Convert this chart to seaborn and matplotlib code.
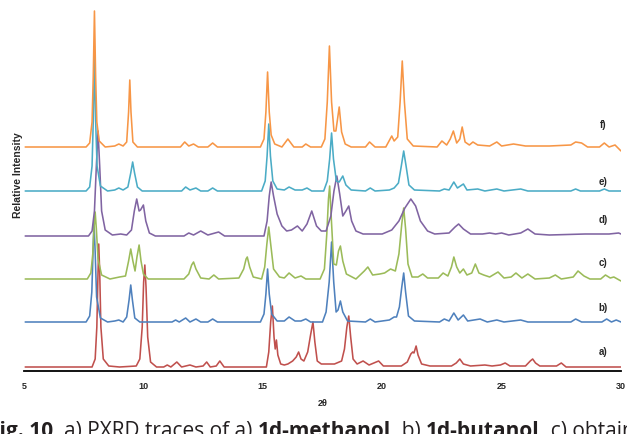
import pandas as pd
import matplotlib
matplotlib.use("Agg")
import matplotlib.pyplot as plt
import matplotlib.transforms as mtransforms
import seaborn as sns

# PXRD traces as (2theta, intensity) points, a) at the bottom
a_pts = [(5.05, 0), (7.85, 0), (7.98, 8), (8.05, 40), (8.1, 95), (8.13, 123), (8.17, 95), (8.22, 40),
         (8.32, 8), (8.55, 1), (9.0, 0), (9.7, 1), (9.85, 8), (9.95, 40), (10.01, 85), (10.06, 102),
         (10.11, 80), (10.18, 30), (10.3, 5), (10.55, 0), (10.85, 0), (11.0, 2), (11.15, 0), (11.4, 5),
         (11.6, 0), (11.95, 2), (12.2, 0), (12.5, 1), (12.65, 5), (12.8, 0), (13.05, 1), (13.2, 6),
         (13.38, 0), (15.15, 0), (15.25, 15), (15.33, 45), (15.4, 61), (15.47, 30), (15.52, 18),
         (15.57, 27), (15.63, 12), (15.75, 3), (15.9, 2), (16.05, 3), (16.25, 6), (16.4, 10), (16.5, 15),
         (16.6, 8), (16.72, 6), (16.88, 15), (17.0, 32), (17.1, 45), (17.18, 25), (17.28, 6), (17.45, 3),
         (17.6, 3), (18.0, 3), (18.3, 6), (18.42, 18), (18.52, 40), (18.6, 51), (18.68, 30), (18.78, 8),
         (18.95, 3), (19.2, 6), (19.45, 2), (19.85, 6), (20.05, 1), (20.8, 1), (21.05, 5), (21.2, 13),
         (21.28, 15), (21.33, 14), (21.42, 21), (21.5, 12), (21.65, 3), (22.0, 1), (22.9, 1), (23.1, 4),
         (23.25, 8), (23.4, 3), (23.7, 1), (24.3, 2), (24.6, 1), (24.95, 2), (25.15, 4), (25.35, 1),
         (26.0, 1), (26.2, 6), (26.3, 8), (26.42, 4), (26.6, 1), (27.3, 1), (27.5, 4), (27.7, 0),
         (29.0, 0), (30.0, 0)]

b_pts = [(5.05, 0), (7.6, 0), (7.75, 6), (7.84, 30), (7.89, 70), (7.93, 100), (7.98, 70), (8.04, 25),
         (8.2, 4), (8.5, 0), (8.8, 1), (8.97, 2), (9.15, 0), (9.3, 5), (9.4, 22), (9.47, 37), (9.54, 22),
         (9.64, 4), (9.85, 0), (11.2, 0), (11.35, 2), (11.5, 0), (11.77, 4), (11.95, 0), (12.2, 3),
         (12.4, 0), (12.7, 0), (12.9, 3), (13.1, 0), (14.9, 0), (15.05, 8), (15.13, 28), (15.2, 53),
         (15.27, 28), (15.37, 8), (15.6, 1), (15.9, 1), (16.1, 5), (16.35, 1), (16.6, 1), (16.8, 3),
         (17.0, 0), (17.5, 0), (17.65, 10), (17.78, 40), (17.88, 80), (17.97, 40), (18.07, 10),
         (18.15, 12), (18.25, 21), (18.35, 10), (18.55, 1), (19.3, 0), (19.5, 3), (19.7, 0), (20.3, 2),
         (20.5, 5), (20.6, 5), (20.72, 15), (20.82, 35), (20.9, 49), (20.98, 30), (21.1, 6), (21.35, 1),
         (22.4, 0), (22.6, 3), (22.8, 1), (23.0, 9), (23.18, 2), (23.4, 7), (23.58, 1), (24.1, 3),
         (24.4, 0), (24.8, 2), (25.1, 0), (25.8, 2), (26.1, 0), (27.9, 0), (28.1, 3), (28.35, 0),
         (29.2, 0), (29.4, 3), (29.6, 0), (29.8, 2), (30.0, 0)]

c_pts = [(5.05, 0), (7.65, 0), (7.8, 6), (7.88, 25), (7.93, 50), (7.98, 67), (8.03, 50), (8.1, 20),
         (8.25, 4), (8.6, 0), (9.0, 2), (9.25, 3), (9.38, 18), (9.47, 30), (9.56, 18), (9.65, 8),
         (9.73, 22), (9.82, 34), (9.9, 18), (10.0, 5), (10.2, 0), (11.7, 0), (11.9, 5), (12.02, 14),
         (12.1, 17), (12.2, 10), (12.4, 1), (12.75, 0), (12.95, 4), (13.15, 0), (14.0, 1), (14.2, 10),
         (14.3, 20), (14.35, 22), (14.45, 12), (14.6, 2), (14.95, 0), (15.08, 12), (15.17, 35),
         (15.25, 52), (15.33, 35), (15.45, 10), (15.7, 2), (15.9, 1), (16.1, 6), (16.35, 1), (16.6, 3),
         (16.8, 0), (17.4, 0), (17.58, 10), (17.68, 45), (17.75, 80), (17.8, 93), (17.87, 60),
         (17.97, 15), (18.08, 14), (18.17, 28), (18.25, 33), (18.35, 18), (18.5, 5), (18.9, 0),
         (19.25, 8), (19.4, 12), (19.6, 4), (19.9, 5), (20.1, 6), (20.35, 10), (20.55, 8), (20.7, 25),
         (20.82, 55), (20.9, 71), (20.98, 50), (21.08, 15), (21.25, 2), (21.5, 2), (21.7, 5), (21.9, 1),
         (22.35, 1), (22.55, 6), (22.75, 3), (22.9, 12), (23.0, 22), (23.12, 12), (23.25, 6),
         (23.4, 10), (23.55, 4), (23.75, 6), (23.9, 15), (24.05, 6), (24.25, 4), (24.5, 2), (24.85, 7),
         (25.1, 1), (25.4, 2), (25.6, 6), (25.85, 1), (26.1, 5), (26.4, 0), (27.0, 1), (27.25, 4),
         (27.5, 0), (28.0, 2), (28.2, 8), (28.45, 3), (28.7, 0), (29.15, 0), (29.35, 4), (29.55, 1),
         (29.7, 2), (30.0, -2)]

d_pts = [(5.05, 0), (7.7, 0), (7.85, 5), (7.95, 25), (8.03, 70), (8.1, 105), (8.17, 70), (8.25, 25),
         (8.4, 6), (8.7, 1), (9.05, 2), (9.3, 1), (9.5, 6), (9.62, 25), (9.72, 37), (9.82, 25),
         (9.88, 26), (10.0, 31), (10.1, 15), (10.25, 3), (10.5, 0), (11.7, 0), (11.9, 3), (12.1, 1),
         (12.4, 5), (12.7, 1), (13.15, 4), (13.4, 0), (15.05, 0), (15.18, 15), (15.27, 40), (15.35, 54),
         (15.45, 40), (15.6, 22), (15.8, 10), (16.0, 5), (16.2, 6), (16.45, 10), (16.65, 5), (16.85, 12),
         (17.05, 25), (17.25, 10), (17.45, 5), (17.65, 5), (17.85, 20), (17.98, 45), (18.1, 60),
         (18.22, 42), (18.35, 20), (18.48, 25), (18.6, 30), (18.72, 15), (18.9, 5), (19.2, 2), (20.0, 2),
         (20.4, 6), (20.7, 15), (20.95, 28), (21.2, 37), (21.4, 30), (21.6, 15), (21.9, 5), (22.2, 2),
         (22.8, 3), (23.05, 9), (23.2, 12), (23.4, 7), (23.7, 2), (24.2, 2), (24.5, 3), (24.75, 2),
         (25.0, 3), (25.3, 1), (25.8, 3), (26.1, 7), (26.4, 2), (27.0, 1), (28.5, 2), (29.5, 2),
         (29.9, 3), (30.0, 2)]

e_pts = [(5.05, 0), (7.6, 0), (7.75, 4), (7.85, 25), (7.9, 70), (7.95, 136), (8.0, 70), (8.06, 25),
         (8.2, 5), (8.5, 0), (8.8, 1), (8.97, 3), (9.15, 1), (9.35, 4), (9.47, 18), (9.55, 29),
         (9.63, 18), (9.75, 4), (9.95, 0), (11.6, 0), (11.77, 4), (11.95, 1), (12.2, 3), (12.4, 0),
         (12.7, 0), (12.9, 3), (13.1, 0), (14.95, 0), (15.1, 10), (15.18, 35), (15.25, 67), (15.32, 35),
         (15.42, 10), (15.6, 2), (15.9, 1), (16.1, 4), (16.35, 1), (16.65, 1), (16.85, 3), (17.05, 0),
         (17.55, 0), (17.7, 10), (17.8, 32), (17.88, 58), (17.96, 32), (18.08, 10), (18.2, 9),
         (18.35, 15), (18.48, 6), (18.7, 1), (19.3, 0), (19.5, 3), (19.7, 0), (20.3, 1), (20.5, 3),
         (20.68, 8), (20.8, 25), (20.9, 40), (21.0, 25), (21.12, 6), (21.35, 1), (22.4, 0), (22.6, 2),
         (22.8, 1), (23.0, 9), (23.15, 3), (23.4, 7), (23.55, 1), (24.0, 2), (24.3, 0), (24.8, 2),
         (25.1, 0), (25.8, 2), (26.1, 0), (27.9, 0), (28.1, 2), (28.3, 0), (29.1, 0), (29.3, 2),
         (29.5, 0), (30.0, 0)]

f_pts = [(5.05, 0), (7.6, 0), (7.75, 4), (7.85, 25), (7.9, 70), (7.95, 136), (8.0, 70), (8.05, 25),
         (8.15, 6), (8.4, 0), (8.8, 1), (8.97, 3), (9.15, 1), (9.3, 5), (9.38, 35), (9.43, 67),
         (9.48, 35), (9.56, 5), (9.75, 0), (11.55, 0), (11.73, 5), (11.9, 1), (12.1, 3), (12.3, 0),
         (12.7, 0), (12.9, 4), (13.1, 0), (14.9, 0), (15.05, 8), (15.13, 35), (15.2, 75), (15.27, 35),
         (15.35, 12), (15.5, 3), (15.8, 0), (16.05, 8), (16.3, 0), (16.65, 0), (16.8, 3), (17.0, 0),
         (17.45, 0), (17.6, 8), (17.7, 45), (17.79, 101), (17.88, 45), (17.98, 16), (18.06, 16),
         (18.2, 40), (18.3, 15), (18.45, 3), (18.7, 0), (19.3, 0), (19.47, 5), (19.7, 0), (20.15, 0),
         (20.4, 11), (20.5, 6), (20.65, 10), (20.75, 45), (20.84, 86), (20.93, 45), (21.05, 8),
         (21.3, 1), (22.3, 0), (22.5, 6), (22.7, 2), (22.85, 8), (22.98, 16), (23.12, 4), (23.25, 8),
         (23.35, 20), (23.47, 5), (23.65, 2), (23.8, 5), (24.0, 2), (24.5, 1), (24.8, 5), (25.0, 1),
         (25.5, 3), (26.0, 1), (27.0, 1), (27.9, 2), (28.1, 5), (28.35, 4), (28.6, 0), (29.1, 0),
         (29.3, 4), (29.5, 0), (29.75, 2), (30.0, -4)]

trace_names = ["a)", "b)", "c)", "d)", "e)", "f)"]
trace_pts = [a_pts, b_pts, c_pts, d_pts, e_pts, f_pts]
offsets = [0, 45, 88, 131, 176, 220]          # vertical stacking of the traces
label_y = [16, 60, 105, 148, 186, 243]
colors = ["#C0504D", "#4F81BD", "#9BBB59", "#8064A2", "#4BACC6", "#F79646"]
x_ticks = [5, 10, 15, 20, 25, 30]

caption_parts = [("Fig. 10", "bold", 2), ("a) PXRD traces of a)", "normal", 1),
                 ("1d-methanol", "bold", 0), (", b)", "normal", 1), ("1d-butanol", "bold", 0),
                 (", c) obtained", "normal", 0)]

# long table for seaborn
rows = []
for name, pts, off in zip(trace_names, trace_pts, offsets):
    for tt, inten in pts:
        rows.append({"two_theta": tt, "intensity": inten + off, "trace": name})
df = pd.DataFrame(rows)

sns.set_style("white")
plt.rcParams["font.family"] = ["Liberation Sans", "DejaVu Sans"]

fig = plt.figure(figsize=(6.27, 4.35), dpi=100)
ax = fig.add_axes([24 / 627, 63 / 435, 597 / 627, 372 / 435])

sns.lineplot(data=df, x="two_theta", y="intensity", hue="trace", hue_order=trace_names,
             palette=dict(zip(trace_names, colors)), estimator=None, sort=False,
             linewidth=1.15, legend=False, ax=ax)

for name, y in zip(trace_names, label_y):
    ax.text(29.25, y, name, fontsize=7, fontweight="bold", ha="center", va="center")

ax.set_xlim(5, 30)
ax.set_ylim(-4, 368)
ax.set_xticks(x_ticks)
ax.set_xticklabels([str(t) for t in x_ticks], fontsize=6.5, fontweight="bold")
ax.set_yticks([])
ax.tick_params(axis="x", direction="out", length=4, width=1.2, pad=3, color="black")
for side in ["top", "right", "left"]:
    ax.spines[side].set_visible(False)
ax.spines["bottom"].set_color("black")
ax.spines["bottom"].set_linewidth(1.3)
ax.set_xlabel("2θ", fontsize=6.5, fontweight="bold", labelpad=6)
ax.set_ylabel("")

fig.text(18 / 627, 1 - 175 / 435, "Relative Intensity", rotation=90, fontsize=7.5,
         fontweight="bold", ha="center", va="center")

# caption line, clipped at the bottom and left like in the source image
fig.canvas.draw()
r = fig.canvas.get_renderer()
ident = mtransforms.IdentityTransform()
cap_size = 15.0
probe1 = fig.text(0, 0, "x x", fontsize=cap_size, family="Open Sans", transform=ident)
probe2 = fig.text(0, 0, "xx", fontsize=cap_size, family="Open Sans", transform=ident)
space_w = probe1.get_window_extent(r).width - probe2.get_window_extent(r).width
probe1.remove()
probe2.remove()
x = -12
for txt, weight, gap in caption_parts:
    t = fig.text(x, -2, txt, fontsize=cap_size, family="Open Sans", fontweight=weight,
                 color="#231F20", transform=ident, va="baseline")
    x += t.get_window_extent(r).width + gap * space_w

fig.savefig("out.png", dpi=100)
